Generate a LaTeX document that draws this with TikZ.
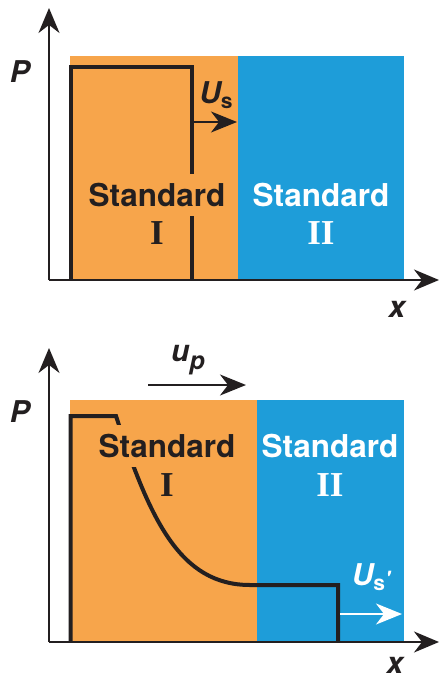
\documentclass[tikz,border=0pt]{standalone}
\usepackage{fontspec}
\setmainfont{Liberation Serif}
\newfontfamily\hv{TeX Gyre Heros}
\usetikzlibrary{arrows.meta}
\definecolor{orng}{HTML}{F7A54B}
\definecolor{blu}{HTML}{1E9DD9}
\definecolor{ink}{HTML}{231F20}
\begin{document}
\begin{tikzpicture}[x=1pt,y=-1pt,
  axis/.style={draw=ink,line width=2pt,-{Stealth[length=25pt,width=21pt,inset=8pt]}},
  velarrow/.style={line width=2pt,-{Stealth[length=26pt,width=21pt,inset=8pt]}},
  profile/.style={draw=ink,line width=4pt,line join=miter},
  stdlabel/.style={font=\hv\bfseries\fontsize{31.5}{32}\selectfont,inner xsep=2pt,inner ysep=9pt},
  romlabel/.style={font=\bfseries\fontsize{35}{36}\selectfont,inner sep=0pt},
  axlabel/.style={font=\hv\bfseries\itshape\fontsize{30}{30}\selectfont,text=ink,inner sep=0pt},
  vlabel/.style={font=\hv\bfseries\fontsize{30}{30}\selectfont,inner sep=0pt}
]
\useasboundingbox (0,0) rectangle (440,680);

% ---------- top panel ----------
\fill[orng] (70,56) rectangle (238,280);
\fill[blu] (238,56) rectangle (404,280);
\coordinate (t0) at (70.7,280);
\coordinate (t1) at (70.7,67);
\coordinate (t2) at (192,67);
\coordinate (t3) at (192,280);
\draw[profile] (t0) -- (t1) -- (t2) -- (t3);
\node[stdlabel,fill=orng,text=ink] (s1a) at (157,195) {Standard};
\node[romlabel,text=ink] (r1a) at (157,233) {I};
\node[stdlabel,text=white] (s2a) at (321,195) {Standard};
\node[romlabel,text=white] (r2a) at (321,233) {II};
\coordinate (oa) at (49,280);
\coordinate (ya) at (49,8);
\coordinate (xa) at (439,280);
\draw[axis] (oa) -- (ya);
\draw[axis] (oa) -- (xa);
\node[axlabel] (pa) at (20,72) {P};
\node[axlabel] (xla) at (397,309) {x};
\coordinate (usa0) at (192,122);
\coordinate (usa1) at (237,122);
\draw[velarrow,draw=ink,fill=ink] (usa0) -- (usa1);
\node[vlabel,text=ink] (usl) at (216,95) {\itshape U\raisebox{-0.3ex}{\upshape\fontsize{21}{21}\selectfont s}};

% ---------- bottom panel ----------
\fill[orng] (70,400) rectangle (257,642);
\fill[blu] (257,400) rectangle (404,642);
\coordinate (b0) at (70.7,642);
\coordinate (b1) at (70.7,416);
\coordinate (b2) at (116,416);
\coordinate (b3) at (250,585);
\coordinate (b4) at (338,585);
\coordinate (b5) at (338,642);
\draw[profile] (b0) -- (b1) -- (b2) .. controls (150,520) and (180,585) .. (b3) -- (b4) -- (b5);
\node[stdlabel,fill=orng,text=ink] (s1b) at (167,446) {Standard};
\node[romlabel,text=ink] (r1b) at (167,485) {I};
\node[stdlabel,text=white] (s2b) at (330,446) {Standard};
\node[romlabel,text=white] (r2b) at (330,485) {II};
\coordinate (ob) at (49,642);
\coordinate (yb) at (49,348);
\coordinate (xb) at (439,642);
\draw[axis] (ob) -- (yb);
\draw[axis] (ob) -- (xb);
\node[axlabel] (pb) at (20,412) {P};
\node[axlabel] (xlb) at (395,665) {x};
\coordinate (up0) at (148,385);
\coordinate (up1) at (246,385);
\draw[velarrow,draw=ink,fill=ink] (up0) -- (up1);
\node[vlabel,text=ink] (upl) at (188,360) {\itshape u\raisebox{-0.45ex}{\fontsize{25}{25}\selectfont p}};
\coordinate (us0) at (340,614);
\coordinate (us1) at (402,614);
\draw[velarrow,draw=white,fill=white] (us0) -- (us1);
\node[vlabel,text=white] (usb) at (371,577) {\itshape U\raisebox{-0.3ex}{\upshape\fontsize{21}{21}\selectfont s\raisebox{0.35ex}{\itshape\textquotesingle}}};
\end{tikzpicture}
\end{document}
